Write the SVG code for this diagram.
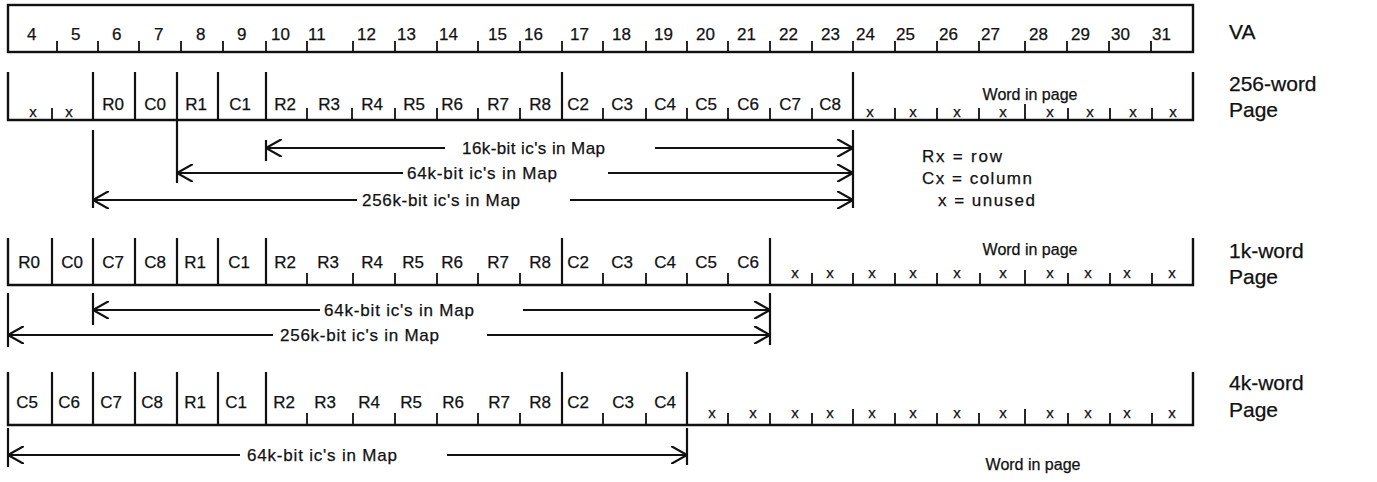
<svg xmlns="http://www.w3.org/2000/svg" width="1377" height="482" viewBox="0 0 1377 482">
<style>
  .frame { fill: none; stroke: #111; stroke-width: 2.4; stroke-linejoin: miter; }
  .bar { fill: none; stroke: #111; stroke-width: 2.2; }
  .tick { fill: none; stroke: #111; stroke-width: 1.8; }
  .conn { fill: none; stroke: #111; stroke-width: 2.2; }
  text { font-family: "Liberation Sans", Arial, Helvetica, sans-serif; fill: #111; stroke: #111; stroke-width: 0.25; }
  .num { font-size: 17px; }
  .lab { font-size: 17px; text-anchor: middle; }
  .xx { font-size: 15px; text-anchor: middle; }
  .side { font-size: 21px; }
  .wip { font-size: 16px; text-anchor: middle; }
  .arl { font-size: 17px; }
  .leg { font-size: 17px; }
</style>
<defs>
  <marker id="ah" viewBox="0 0 16 18" refX="16" refY="9" markerWidth="16" markerHeight="18" markerUnits="userSpaceOnUse" orient="auto-start-reverse">
    <path d="M0,0 L16,9 L0,18" fill="none" stroke="#111" stroke-width="2.2"/>
  </marker>
</defs>

<g id="va">
  <rect class="frame" x="8" y="5" width="1185" height="47"/>
  <path class="tick" d="M57 41V52M98 41V52M139 41V52M181 41V52M223 41V52M266 41V52M307 41V52M353 41V52M395 41V52M437 41V52M478 41V52M520 41V52M562 41V52M603 41V52M646 41V52M687 41V52M728 41V52M770 41V52M812 41V52M853 41V52M895 41V52M937 41V52M979 41V52M1025 41V52M1067 41V52M1109 41V52M1151 41V52"/>
  <text class="num" y="40"><tspan x="27">4</tspan><tspan x="71">5</tspan><tspan x="112">6</tspan><tspan x="154">7</tspan><tspan x="196">8</tspan><tspan x="237">9</tspan><tspan x="271">10</tspan><tspan x="308">11</tspan><tspan x="357">12</tspan><tspan x="397">13</tspan><tspan x="439">14</tspan><tspan x="488">15</tspan><tspan x="524">16</tspan><tspan x="570">17</tspan><tspan x="612">18</tspan><tspan x="654">19</tspan><tspan x="696">20</tspan><tspan x="737">21</tspan><tspan x="779">22</tspan><tspan x="821">23</tspan><tspan x="856">24</tspan><tspan x="896">25</tspan><tspan x="939">26</tspan><tspan x="981">27</tspan><tspan x="1029">28</tspan><tspan x="1071">29</tspan><tspan x="1111">30</tspan><tspan x="1152">31</tspan></text>
  <text class="side" x="1229" y="39">VA</text>
</g>

<g id="page256">
  <path class="frame" d="M8 72V120H1193V72"/>
  <path class="bar" d="M93 72V120M135 72V120M177 72V120M218 72V120M266 72V120M562 72V120M853 72V120"/>
  <path class="tick" d="M52 108V120M307 108V120M352 108V120M395 108V120M437 108V120M478 108V120M520 108V120M603 108V120M646 108V120M687 108V120M728 108V120M770 108V120M812 108V120M895 108V120M937 108V120M979 108V120M1025 104V120M1068 108V120M1110 108V120M1152 108V120"/>
  <text class="xx" y="117"><tspan x="33">x</tspan><tspan x="69">x</tspan></text>
  <text class="lab" y="110"><tspan x="113">R0</tspan><tspan x="155">C0</tspan><tspan x="196">R1</tspan><tspan x="240">C1</tspan><tspan x="285">R2</tspan><tspan x="329">R3</tspan><tspan x="372">R4</tspan><tspan x="414">R5</tspan><tspan x="452">R6</tspan><tspan x="498">R7</tspan><tspan x="540">R8</tspan><tspan x="578">C2</tspan><tspan x="622">C3</tspan><tspan x="665">C4</tspan><tspan x="706">C5</tspan><tspan x="748">C6</tspan><tspan x="790">C7</tspan><tspan x="830">C8</tspan></text>
  <text class="xx" y="117"><tspan x="870">x</tspan><tspan x="913">x</tspan><tspan x="957">x</tspan><tspan x="1003">x</tspan><tspan x="1050">x</tspan><tspan x="1090">x</tspan><tspan x="1133">x</tspan><tspan x="1173">x</tspan></text>
  <text class="wip" x="1030" y="100">Word in page</text>
  <text class="side" x="1229" y="91">256-word</text>
  <text class="side" x="1229" y="117">Page</text>
</g>

<g id="legend">
  <text class="leg" x="922" y="162" textLength="80" lengthAdjust="spacing">Rx = row</text>
  <text class="leg" x="922" y="184" textLength="110" lengthAdjust="spacing">Cx = column</text>
  <text class="leg" x="938" y="206" textLength="97" lengthAdjust="spacing">x = unused</text>
</g>

<g id="page1k">
  <path class="frame" d="M8 238V285H1193V238"/>
  <path class="bar" d="M52 238V285M93 238V285M135 238V285M177 238V285M218 238V285M266 238V285M562 238V285M770 238V285"/>
  <path class="tick" d="M307 273V285M353 273V285M395 273V285M437 273V285M478 273V285M520 273V285M603 273V285M646 273V285M687 273V285M728 273V285M812 273V285M853 273V285M895 273V285M937 273V285M980 273V285M1025 270V285M1068 273V285M1110 273V285M1152 273V285"/>
  <text class="lab" y="268"><tspan x="29">R0</tspan><tspan x="72">C0</tspan><tspan x="113">C7</tspan><tspan x="155">C8</tspan><tspan x="195">R1</tspan><tspan x="239">C1</tspan><tspan x="285">R2</tspan><tspan x="328">R3</tspan><tspan x="372">R4</tspan><tspan x="413">R5</tspan><tspan x="452">R6</tspan><tspan x="498">R7</tspan><tspan x="540">R8</tspan><tspan x="578">C2</tspan><tspan x="622">C3</tspan><tspan x="665">C4</tspan><tspan x="706">C5</tspan><tspan x="748">C6</tspan></text>
  <text class="xx" y="278"><tspan x="795">x</tspan><tspan x="830">x</tspan><tspan x="872">x</tspan><tspan x="913">x</tspan><tspan x="957">x</tspan><tspan x="1003">x</tspan><tspan x="1050">x</tspan><tspan x="1088">x</tspan><tspan x="1127">x</tspan><tspan x="1172">x</tspan></text>
  <text class="wip" x="1030" y="255">Word in page</text>
  <text class="side" x="1229" y="258">1k-word</text>
  <text class="side" x="1229" y="284">Page</text>
</g>

<g id="page4k">
  <path class="frame" d="M8 372V425H1193V372"/>
  <path class="bar" d="M52 372V425M93 372V425M135 372V425M177 372V425M218 372V425M266 372V425M562 372V425M687 372V425"/>
  <path class="tick" d="M307 413V425M353 413V425M395 413V425M437 413V425M478 413V425M520 413V425M603 413V425M646 413V425M728 413V425M770 413V425M812 413V425M853 409V425M895 413V425M937 413V425M979 413V425M1025 409V425M1068 413V425M1110 413V425M1152 413V425"/>
  <text class="lab" y="408"><tspan x="27">C5</tspan><tspan x="69">C6</tspan><tspan x="111">C7</tspan><tspan x="152">C8</tspan><tspan x="195">R1</tspan><tspan x="236">C1</tspan><tspan x="284">R2</tspan><tspan x="325">R3</tspan><tspan x="369">R4</tspan><tspan x="411">R5</tspan><tspan x="453">R6</tspan><tspan x="499">R7</tspan><tspan x="540">R8</tspan><tspan x="578">C2</tspan><tspan x="623">C3</tspan><tspan x="665">C4</tspan></text>
  <text class="xx" y="418"><tspan x="712">x</tspan><tspan x="753">x</tspan><tspan x="795">x</tspan><tspan x="830">x</tspan><tspan x="872">x</tspan><tspan x="913">x</tspan><tspan x="957">x</tspan><tspan x="1003">x</tspan><tspan x="1050">x</tspan><tspan x="1088">x</tspan><tspan x="1127">x</tspan><tspan x="1172">x</tspan></text>
  <text class="side" x="1229" y="390">4k-word</text>
  <text class="side" x="1229" y="417">Page</text>
  <text class="wip" x="1033" y="470">Word in page</text>
</g>

<g id="connectors">
  <path class="conn" d="M266 140V161M177 120V183M93 130V208M853 130V208M8 293V347M93 293V325M770 293V345M8 428V467M687 428V465"/>
  <path class="conn" marker-start="url(#ah)" d="M266 148H445"/>
  <path class="conn" marker-end="url(#ah)" d="M655 148H853"/>
  <path class="conn" marker-start="url(#ah)" d="M177 173H403"/>
  <path class="conn" marker-end="url(#ah)" d="M608 173H853"/>
  <path class="conn" marker-start="url(#ah)" d="M93 200H357"/>
  <path class="conn" marker-end="url(#ah)" d="M570 200H853"/>
  <path class="conn" marker-start="url(#ah)" d="M93 310H320"/>
  <path class="conn" marker-end="url(#ah)" d="M523 310H770"/>
  <path class="conn" marker-start="url(#ah)" d="M8 335H273"/>
  <path class="conn" marker-end="url(#ah)" d="M487 335H770"/>
  <path class="conn" marker-start="url(#ah)" d="M8 455H240"/>
  <path class="conn" marker-end="url(#ah)" d="M447 455H687"/>
  <text class="arl" x="462" y="154" textLength="143" lengthAdjust="spacing">16k-bit ic's in Map</text>
  <text class="arl" x="407" y="179" textLength="150" lengthAdjust="spacing">64k-bit ic's in Map</text>
  <text class="arl" x="362" y="206" textLength="158" lengthAdjust="spacing">256k-bit ic's in Map</text>
  <text class="arl" x="324" y="316" textLength="150" lengthAdjust="spacing">64k-bit ic's in Map</text>
  <text class="arl" x="280" y="341" textLength="159" lengthAdjust="spacing">256k-bit ic's in Map</text>
  <text class="arl" x="247" y="461" textLength="150" lengthAdjust="spacing">64k-bit ic's in Map</text>
</g>
</svg>
